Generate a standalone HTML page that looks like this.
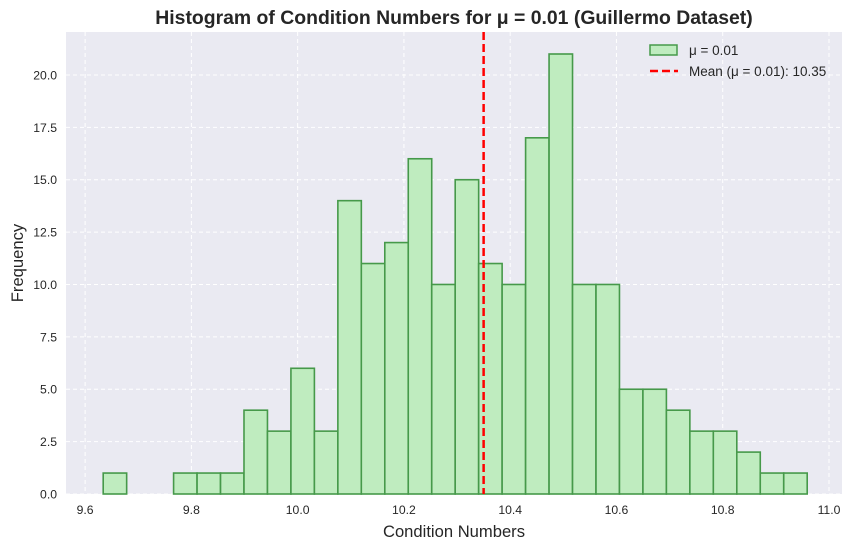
<!DOCTYPE html>
<html><head><meta charset="utf-8"><style>
body{margin:0;background:#fff;}
svg{display:block;font-family:"Liberation Sans","DejaVu Sans",sans-serif;}
</style></head><body>
<svg id="chart" width="856" height="548"></svg>
<script>
const counts=[1,0,0,1,1,1,4,3,6,3,14,11,12,16,10,15,11,10,17,21,10,10,5,5,4,3,3,2,1,1];
const binStart=9.634;
const binEnd=10.959;
const meanValue=10.35;
const xTicks=[9.6,9.8,10.0,10.2,10.4,10.6,10.8,11.0];
const yTicks=[0,2.5,5,7.5,10,12.5,15,17.5,20];
const L=66,R=842,T=32,B=494,xmin=9.564,xmax=11.0245,ymax=22.05;
const X=v=>L+(v-xmin)/(xmax-xmin)*(R-L);
const Y=v=>B-v/ymax*(B-T);
const svg=document.getElementById('chart');
const NS='http://www.w3.org/2000/svg';
function mk(tag,attrs,parent){const e=document.createElementNS(NS,tag);for(const k in attrs)e.setAttribute(k,attrs[k]);(parent||svg).appendChild(e);return e;}
const bg=mk('rect',{x:L,y:T,width:R-L,height:B-T,fill:'#eaeaf2'});


xTicks.forEach(t=>{
 const g=mk('line',{x1:X(t),x2:X(t),y1:T,y2:B,stroke:'#fff','stroke-dasharray':'4 3','stroke-width':1});
 
 
 const tx=mk('text',{x:X(t),y:514,'text-anchor':'middle','font-size':12.2,fill:'#262626'});
 tx.textContent=t.toFixed(1);
 
 
});
yTicks.forEach(t=>{
 const g=mk('line',{x1:L,x2:R,y1:Y(t),y2:Y(t),stroke:'#fff','stroke-dasharray':'4 3','stroke-width':1});
 
 
 const tx=mk('text',{x:L-9,y:Y(t)+4.5,'text-anchor':'end','font-size':12.2,fill:'#262626'});
 tx.textContent=t.toFixed(1);
 
 
});
const w=(binEnd-binStart)/counts.length;
counts.forEach((c,i)=>{
 const x0=X(binStart+i*w),x1=X(binStart+(i+1)*w);
 const r=mk('rect',{x:x0,y:Y(c),width:x1-x0,height:Y(0)-Y(c),fill:'#bfecbf',stroke:'#46994a','stroke-width':1.6});
 
 
});
const ml=mk('line',{x1:X(meanValue),x2:X(meanValue),y1:T,y2:B,stroke:'#ff0000','stroke-width':2.5,'stroke-dasharray':'8 4'});


const title=mk('text',{x:454,y:24,'text-anchor':'middle','font-size':19.4,'font-weight':'bold',fill:'#262626'});
title.textContent='Histogram of Condition Numbers for μ = 0.01 (Guillermo Dataset)';


const xl=mk('text',{x:(L+R)/2,y:537,'text-anchor':'middle','font-size':16.6,fill:'#262626'});
xl.textContent='Condition Numbers';


const yl=mk('text',{x:23,y:(T+B)/2,'text-anchor':'middle','font-size':16.6,fill:'#262626',transform:`rotate(-90 23 ${(T+B)/2})`});
yl.textContent='Frequency';


const lg=mk('g',{});


const le1=mk('rect',{x:650,y:45,width:27,height:10,fill:'#bfecbf',stroke:'#46994a','stroke-width':1.5},lg);


const lt1=mk('text',{x:689,y:55,'font-size':13.5,fill:'#262626'},lg);
lt1.textContent='μ = 0.01';


const le2=mk('line',{x1:650,x2:678,y1:71,y2:71,stroke:'#ff0000','stroke-width':2.5,'stroke-dasharray':'8 4'},lg);


const lt2=mk('text',{x:689,y:76,'font-size':13.5,fill:'#262626'},lg);
lt2.textContent='Mean (μ = 0.01): 10.35';


</script>
</body></html>
